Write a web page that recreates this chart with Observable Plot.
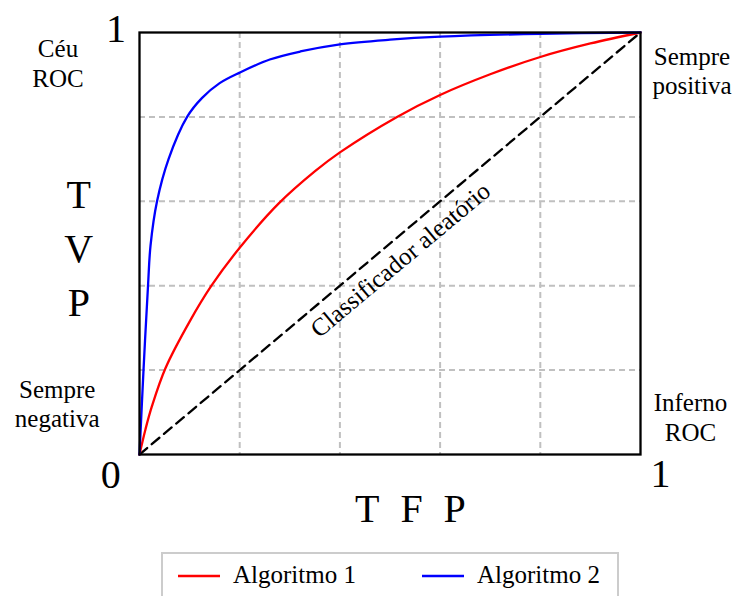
<!DOCTYPE html>
<html>
<head>
<meta charset="utf-8">
<script src="https://cdn.jsdelivr.net/npm/d3@7"></script>
<script src="https://cdn.jsdelivr.net/npm/@observablehq/plot@0.6"></script>
<style>
  body { margin: 0; background: #fff; }
  #wrap { position: relative; width: 732px; height: 596px; overflow: hidden; font-family: "Liberation Serif", "Times New Roman", serif; }
  #legend { position: absolute; left: 161px; top: 552px; }
</style>
</head>
<body>
<div id="wrap"></div>
<script>
// ---- data ----
const fpr1 = [0, 0.012, 0.025, 0.052, 0.1, 0.1436, 0.2, 0.278, 0.351, 0.4, 0.514, 0.6, 0.7, 0.8, 0.9, 1];
const tpr1 = [0, 0.06, 0.115, 0.205, 0.315, 0.40, 0.49, 0.595, 0.672, 0.716, 0.80, 0.852, 0.901, 0.942, 0.974, 1];
const fpr2 = [0, 0.008, 0.017, 0.022, 0.035, 0.058, 0.095, 0.125, 0.16, 0.2, 0.26, 0.321, 0.4, 0.5, 0.6, 0.8, 1];
const tpr2 = [0, 0.2, 0.40, 0.495, 0.60, 0.70, 0.80, 0.845, 0.88, 0.905, 0.936, 0.955, 0.972, 0.983, 0.99, 0.997, 1];
const seriesNames = ["Algoritmo 1", "Algoritmo 2"];
const seriesColors = ["red", "blue"];
const diagonal = [0, 1];
const gridTicks = [0.2, 0.4, 0.6, 0.8];
const axisLabels = ["0", "1", "1"];
const cornerLabels = ["Céu\nROC", "Sempre\npositiva", "Sempre\nnegativa", "Inferno\nROC"];
const yTitle = "T\nV\nP";
const xTitle = ["T", "F", "P"];
const diagLabel = "Classificador aleatório";

const rows = [
  ...fpr1.map((f, i) => ({serie: seriesNames[0], fpr: f, tpr: tpr1[i]})),
  ...fpr2.map((f, i) => ({serie: seriesNames[1], fpr: f, tpr: tpr2[i]}))
];
const diag = diagonal.map(v => ({fpr: v, tpr: v}));

const font = '"Liberation Serif", "Times New Roman", serif';
const txt = (s, o) => Plot.text([s], {text: d => d, textAnchor: "middle", lineAnchor: "middle", fill: "black", fontFamily: font, ...o});

const chart = Plot.plot({
  width: 732,
  height: 545,
  marginLeft: 139,
  marginRight: 92,
  marginTop: 32,
  marginBottom: 91,
  style: {fontFamily: font, background: "white", overflow: "visible"},
  x: {domain: [0, 1], axis: null},
  y: {domain: [0, 1], axis: null},
  color: {domain: seriesNames, range: seriesColors},
  marks: [
    Plot.gridX(gridTicks, {stroke: "#c0c0c0", strokeOpacity: 1, strokeWidth: 2, strokeDasharray: "6,4"}),
    Plot.gridY(gridTicks, {stroke: "#c0c0c0", strokeOpacity: 1, strokeWidth: 2, strokeDasharray: "6,4"}),
    Plot.line(diag, {x: "fpr", y: "tpr", stroke: "black", strokeWidth: 2.3, strokeDasharray: "10,6"}),
    Plot.line(rows, {x: "fpr", y: "tpr", z: "serie", stroke: "serie", strokeWidth: 2.3, curve: "catmull-rom"}),
    Plot.frame({stroke: "black", strokeWidth: 2.3}),
    txt(axisLabels[0], {frameAnchor: "bottom-left", dx: -28.7, dy: 20.2, fontSize: 40}),
    txt(axisLabels[1], {frameAnchor: "top-left", dx: -23.5, dy: -3, fontSize: 40}),
    txt(axisLabels[2], {frameAnchor: "bottom-right", dx: 20, dy: 20, fontSize: 40}),
    txt(cornerLabels[0], {frameAnchor: "top-left", dx: -81.5, dy: 30.3, fontSize: 25, lineHeight: 1.2}),
    txt(cornerLabels[1], {frameAnchor: "top-right", dx: 51.5, dy: 37.5, fontSize: 25, lineHeight: 1.15}),
    txt(cornerLabels[2], {frameAnchor: "bottom-left", dx: -82.3, dy: -51.2, fontSize: 25, lineHeight: 1.15}),
    txt(cornerLabels[3], {frameAnchor: "bottom-right", dx: 50, dy: -38.3, fontSize: 25, lineHeight: 1.22}),
    txt(yTitle, {frameAnchor: "left", dx: -60.7, dy: 1.1, fontSize: 40, lineHeight: 1.355}),
    txt(xTitle[0], {frameAnchor: "bottom", dx: -22.8, dy: 54.9, fontSize: 40}),
    txt(xTitle[1], {frameAnchor: "bottom", dx: 21.5, dy: 54.9, fontSize: 40}),
    txt(xTitle[2], {frameAnchor: "bottom", dx: 64.5, dy: 54.9, fontSize: 40}),
    txt(diagLabel, {frameAnchor: "middle", dx: 10.5, dy: 16.5, rotate: -40, fontSize: 25})
  ]
});
const wrap = document.getElementById("wrap");
wrap.appendChild(chart);

// ---- legend (below the plot) ----
const lg = d3.create("svg").attr("id", "legend").attr("width", 458).attr("height", 50)
  .style("font-family", font);
lg.append("rect").attr("x", 1).attr("y", 1).attr("width", 456).attr("height", 60)
  .attr("fill", "white").attr("stroke", "#cccccc").attr("stroke-width", 2);
const items = seriesNames.map((n, i) => ({name: n, color: seriesColors[i], x0: i === 0 ? 17 : 261}));
const g = lg.selectAll("g").data(items).join("g");
g.append("line").attr("x1", d => d.x0).attr("x2", d => d.x0 + 42).attr("y1", 24).attr("y2", 24)
  .attr("stroke", d => d.color).attr("stroke-width", 2.3);
g.append("text").attr("x", d => d.x0 + 55).attr("y", 31).attr("font-size", 25).attr("fill", "black")
  .text(d => d.name);
wrap.appendChild(lg.node());
</script>
</body>
</html>
